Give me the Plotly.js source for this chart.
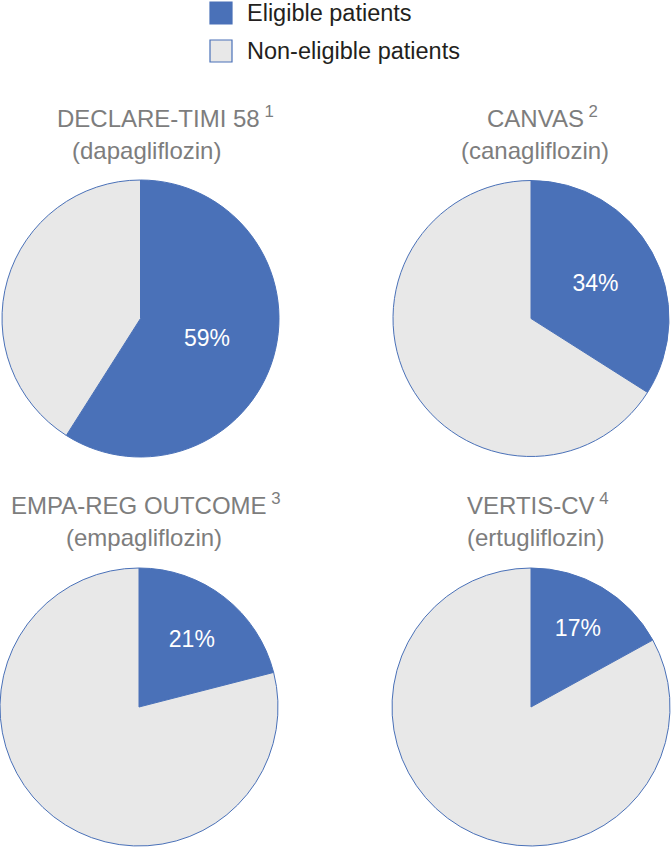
<!DOCTYPE html>
<html>
<head>
<meta charset="utf-8">
<script src="https://cdn.plot.ly/plotly-3.0.1.min.js"></script>
<style>html,body{margin:0;padding:0;background:#fff;}#chart{width:671px;height:847px;}</style>
</head>
<body>
<div id="chart"></div>
<script>
// ---- data ----
var trials = ['DECLARE-TIMI 58', 'CANVAS', 'EMPA-REG OUTCOME', 'VERTIS-CV'];
var drugs = ['(dapagliflozin)', '(canagliflozin)', '(empagliflozin)', '(ertugliflozin)'];
var refs = ['1', '2', '3', '4'];
var eligible = [59, 34, 21, 17];
var nonEligible = [41, 66, 79, 83];
var seriesNames = ['Eligible patients', 'Non-eligible patients'];

// ---- style ----
var W = 671, H = 847;
var BLUE = '#4a71b8', GREY = '#e8e8e8', TITLE = '#7d7d7d';
var FONT = 'Liberation Sans, Arial, Helvetica, sans-serif';
// pie boxes in pixels: [left, right, top, bottom]
var boxes = [[2, 279, 180, 457], [393, 669, 180, 457], [0, 278, 568, 846], [392, 670, 568, 846]];
// title line centres in pixels
var titlePos = [[165, 117, 146.5, 150], [542, 117, 535, 150], [146, 504, 143.5, 537], [538, 504, 535, 537]];

function px(x) { return x / W; }
function py(y) { return 1 - y / H; }

var data = trials.map(function (t, i) {
  var b = boxes[i];
  return {
    type: 'pie',
    labels: seriesNames,
    values: [eligible[i], nonEligible[i]],
    text: [eligible[i] + '%', ''],
    textinfo: 'text',
    textposition: 'inside',
    insidetextorientation: 'horizontal',
    textfont: {family: FONT, size: 23, color: '#ffffff'},
    sort: false,
    direction: 'clockwise',
    rotation: 0,
    marker: {colors: [BLUE, GREY], line: {color: BLUE, width: 1}},
    domain: {x: [px(b[0]), px(b[1])], y: [py(b[3]), py(b[2])]},
    hoverinfo: 'label+percent',
    showlegend: false,
    name: t
  };
});

var annotations = [];
trials.forEach(function (t, i) {
  var p = titlePos[i];
  annotations.push({
    xref: 'paper', yref: 'paper', x: px(p[0]), y: py(p[1]),
    xanchor: 'center', yanchor: 'middle', showarrow: false,
    text: t + '<sup> ' + refs[i] + '</sup>',
    font: {family: FONT, size: 24, color: TITLE}
  });
  annotations.push({
    xref: 'paper', yref: 'paper', x: px(p[2]), y: py(p[3]),
    xanchor: 'center', yanchor: 'middle', showarrow: false,
    text: drugs[i],
    font: {family: FONT, size: 24, color: TITLE}
  });
});

// legend (drawn)
var legendColors = [BLUE, GREY];
var legendY = [13, 51];
var shapes = [];
seriesNames.forEach(function (n, i) {
  shapes.push({
    type: 'rect', xref: 'paper', yref: 'paper',
    x0: px(210), x1: px(232), y0: py(legendY[i] + 11), y1: py(legendY[i] - 11),
    fillcolor: legendColors[i], line: {color: BLUE, width: 1.2}
  });
  annotations.push({
    xref: 'paper', yref: 'paper', x: px(245), y: py(legendY[i]),
    xanchor: 'left', yanchor: 'middle', showarrow: false,
    text: n, font: {family: FONT, size: 23.5, color: '#231f20'}
  });
});

var layout = {
  width: W, height: H,
  margin: {l: 0, r: 0, t: 0, b: 0},
  paper_bgcolor: '#ffffff',
  showlegend: false,
  annotations: annotations,
  shapes: shapes
};

Plotly.newPlot('chart', data, layout, {displayModeBar: false, staticPlot: true});
</script>
</body>
</html>
